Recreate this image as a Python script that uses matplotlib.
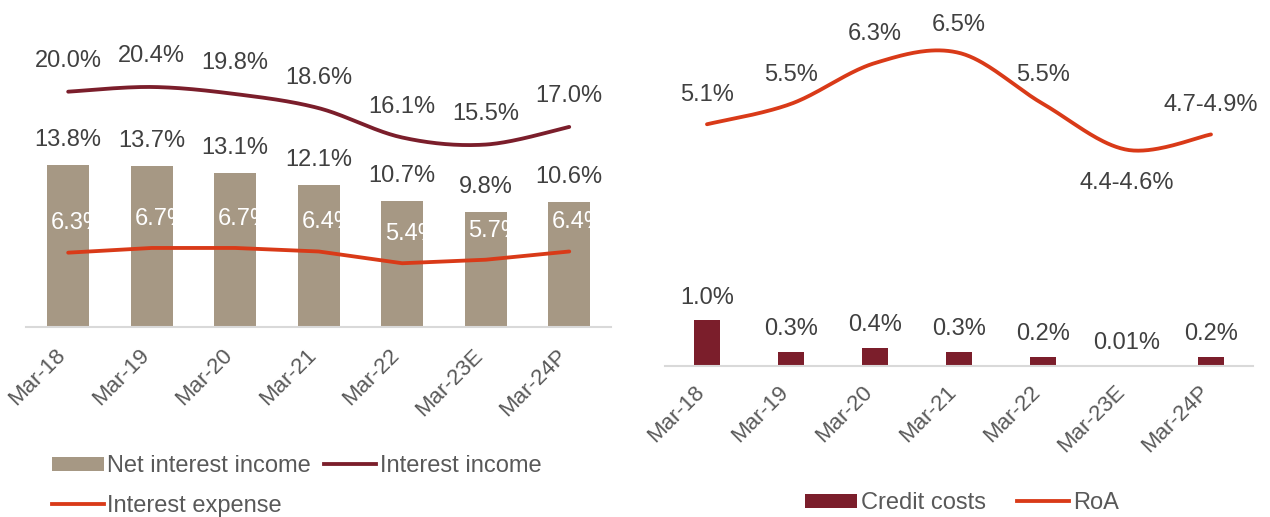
"""Bank margin profile: yields, spreads, credit costs and RoA by fiscal year."""

import matplotlib

matplotlib.use("Agg")
import matplotlib.pyplot as plt
import matplotlib.transforms as mtransforms
import numpy as np
from matplotlib.lines import Line2D
from matplotlib.patches import Patch

years = ["Mar-18", "Mar-19", "Mar-20", "Mar-21", "Mar-22", "Mar-23E", "Mar-24P"]

net_interest_income = [13.8, 13.7, 13.1, 12.1, 10.7, 9.8, 10.6]
interest_income = [20.0, 20.4, 19.8, 18.6, 16.1, 15.5, 17.0]
interest_expense = [6.3, 6.7, 6.7, 6.4, 5.4, 5.7, 6.4]

credit_costs = [1.0, 0.3, 0.4, 0.3, 0.2, 0.01, 0.2]
credit_cost_labels = ["1.0%", "0.3%", "0.4%", "0.3%", "0.2%", "0.01%", "0.2%"]
roa = [5.1, 5.5, 6.3, 6.5, 5.5, 4.6, 4.9]
roa_labels = ["5.1%", "5.5%", "6.3%", "6.5%", "5.5%", "4.4-4.6%", "4.7-4.9%"]

TAN = "#A69884"
MAROON = "#7B1E2B"
ORANGE = "#D93A18"
LABEL_GREY = "#404040"
TICK_GREY = "#595959"
AXIS_GREY = "#D9D9D9"

plt.rcParams["font.family"] = ["Liberation Sans", "DejaVu Sans"]


def smooth_curve(x, y, steps=40):
    """Cubic Bezier smoothing through every point (Catmull-Rom style)."""
    x = np.asarray(x, dtype=float)
    y = np.asarray(y, dtype=float)
    px = np.concatenate(([x[0]], x, [x[-1]]))
    py = np.concatenate(([y[0]], y, [y[-1]]))
    t = np.linspace(0, 1, steps)
    xs, ys = [], []
    for i in range(1, len(x)):
        p0 = np.array([px[i], py[i]])
        p3 = np.array([px[i + 1], py[i + 1]])
        c1 = p0 + (np.array([px[i + 1], py[i + 1]]) - np.array([px[i - 1], py[i - 1]])) / 6
        c2 = p3 - (np.array([px[i + 2], py[i + 2]]) - np.array([px[i], py[i]])) / 6
        pts = (
            ((1 - t) ** 3)[:, None] * p0
            + (3 * (1 - t) ** 2 * t)[:, None] * c1
            + (3 * (1 - t) * t**2)[:, None] * c2
            + (t**3)[:, None] * p3
        )
        xs.append(pts[:, 0])
        ys.append(pts[:, 1])
    return np.concatenate(xs), np.concatenate(ys)


def style_axis(ax, pad):
    for side in ("top", "right", "left"):
        ax.spines[side].set_visible(False)
    ax.spines["bottom"].set_color(AXIS_GREY)
    ax.spines["bottom"].set_linewidth(1.5)
    ax.set_yticks([])
    ax.set_xlim(-0.5, len(years) - 0.5)
    ax.set_xticks(range(len(years)))
    ax.set_xticklabels(years, rotation=45, ha="right", va="top",
                       rotation_mode="anchor", fontsize=16, color=TICK_GREY)
    ax.tick_params(axis="x", length=0, pad=pad)
    # nudge the slanted labels so their ends sit under the category centre
    shift = mtransforms.ScaledTranslation(-13 / 100, 0, fig.dpi_scale_trans)
    for tick in ax.get_xticklabels():
        tick.set_transform(tick.get_transform() + shift)


def label(ax, x, y, text, dy, dx=0, color=LABEL_GREY):
    ax.annotate(text, (x, y), xytext=(dx, dy), textcoords="offset points",
                ha="center", va="center", fontsize=17, color=color, zorder=10)


fig = plt.figure(figsize=(12.7, 5.17), dpi=100)
x = np.arange(len(years))

# left panel: yield, cost of funds and spread
ax1 = fig.add_axes([0.0208, 0.3681, 0.4603, 0.5739])
ax1.bar(x, net_interest_income, width=0.5, color=TAN, zorder=2)
ix, iy = smooth_curve(x, interest_income)
ax1.plot(ix, iy, color=MAROON, lw=2.75, solid_capstyle="round", zorder=3)
ax1.plot(x, interest_expense, color=ORANGE, lw=2.75, solid_capstyle="round", zorder=3)
ax1.set_ylim(0, 25.25)
style_axis(ax1, pad=13)

for xi, v in zip(x, net_interest_income):
    label(ax1, xi, v, f"{v:.1f}%", 18)
for xi, v in zip(x, interest_income):
    label(ax1, xi, v, f"{v:.1f}%", 22)
for xi, v in zip(x, interest_expense):
    label(ax1, xi, v, f"{v:.1f}%", 21, dx=7, color="white")

fig.legend(
    handles=[Patch(facecolor=TAN), Line2D([], [], color=ORANGE, lw=2.75),
             Line2D([], [], color=MAROON, lw=2.75)],
    labels=["Net interest income", "Interest expense", "Interest income"],
    loc="center left", bbox_to_anchor=(0.0409, 0.0600), ncol=2, frameon=False,
    fontsize=17, labelcolor=TICK_GREY, handlelength=2.2, handleheight=0.53,
    handletextpad=0.15, columnspacing=0.55, labelspacing=0.76,
    borderpad=0, borderaxespad=0,
)

# right panel: credit costs and return on assets
ax2 = fig.add_axes([0.5236, 0.2921, 0.463, 0.65])
ax2.bar(x, credit_costs, width=0.32, color=MAROON, zorder=2)
ax2.set_ylim(0, 7.38)
style_axis(ax2, pad=11)
for xi, v, t in zip(x, credit_costs, credit_cost_labels):
    label(ax2, xi, v, t, 16.5)

ax3 = ax2.twinx()
ax3.set_ylim(0.361, 6.949)
ax3.set_yticks([])
for side in ("top", "right", "left", "bottom"):
    ax3.spines[side].set_visible(False)
rx, ry = smooth_curve(x, roa)
ax3.plot(rx, ry, color=ORANGE, lw=2.75, solid_capstyle="round", zorder=3)
roa_offsets = [21, 21, 21, 20, 21, -24, 21]
for xi, v, t, dy in zip(x, roa, roa_labels, roa_offsets):
    label(ax3, xi, v, t, dy)

fig.legend(
    handles=[Patch(facecolor=MAROON), Line2D([], [], color=ORANGE, lw=2.75)],
    labels=["Credit costs", "RoA"],
    loc="center left", bbox_to_anchor=(0.6339, 0.0271), ncol=2, frameon=False,
    fontsize=17, labelcolor=TICK_GREY, handlelength=2.2, handleheight=0.53,
    handletextpad=0.15, columnspacing=1.35, borderpad=0, borderaxespad=0,
)

fig.savefig("out.png", dpi=100)
